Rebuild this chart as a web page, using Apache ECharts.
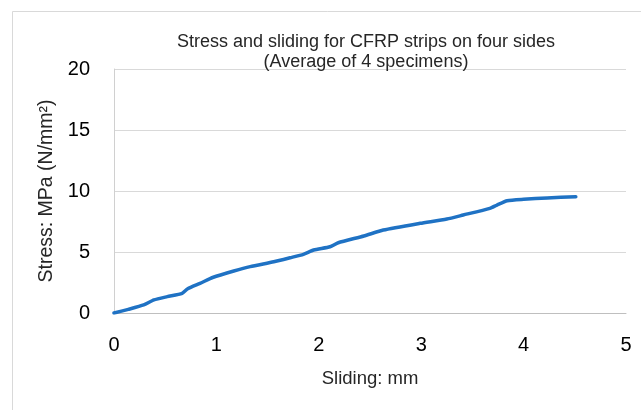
<!DOCTYPE html>
<html>
<head>
<meta charset="utf-8">
<script src="https://cdn.jsdelivr.net/npm/echarts@6/dist/echarts.min.js"></script>
<style>html,body{margin:0;padding:0;background:#fff;}#c{width:641px;height:410px;}</style>
</head>
<body>
<div id="c"></div>
<script>
const titleLines = ["Stress and sliding for CFRP strips on four sides", "(Average of 4 specimens)"];
const xName = "Sliding: mm";
const yName = "Stress: MPa (N/mm²)";
const sliding = [0, 0.14, 0.29, 0.39, 0.52, 0.665, 0.72, 0.84, 0.97, 1.17, 1.33, 1.56, 1.72, 1.85, 1.95, 2.11, 2.19, 2.44, 2.63, 2.99, 3.25, 3.41, 3.67, 3.74, 3.84, 4.00, 4.23, 4.51];
const stress  = [0, 0.30, 0.66, 1.07, 1.34, 1.61, 1.99, 2.43, 2.93, 3.44, 3.80, 4.20, 4.53, 4.81, 5.16, 5.43, 5.76, 6.31, 6.80, 7.35, 7.70, 8.03, 8.58, 8.85, 9.20, 9.32, 9.43, 9.53];

const font = "'Liberation Sans', Arial, sans-serif";
const chart = echarts.init(document.getElementById('c'), null, {renderer: 'canvas'});
chart.setOption({
  backgroundColor: '#fff',
  animation: false,
  graphic: [{
    type: 'rect', silent: true, z: -10,
    shape: {x: 12.5, y: 11.5, width: 700, height: 500},
    style: {fill: 'none', stroke: '#d9d9d9', lineWidth: 1}
  }],
  title: {
    text: titleLines.join('\n'),
    left: 361, top: 27, textAlign: 'center',
    textStyle: {fontFamily: font, fontSize: 18, fontWeight: 'normal', color: '#262626', lineHeight: 20}
  },
  grid: {left: 114, right: 15, top: 69, bottom: 97},
  xAxis: {
    type: 'value', min: 0, max: 5, interval: 1,
    name: xName, nameLocation: 'middle', nameGap: 56,
    nameTextStyle: {fontFamily: font, fontSize: 18.5, color: '#262626'},
    axisLine: {show: true, lineStyle: {color: '#bfbfbf', width: 1}},
    axisTick: {show: false},
    splitLine: {show: false},
    axisLabel: {fontFamily: font, fontSize: 20, color: '#000', margin: 22}
  },
  yAxis: {
    type: 'value', min: 0, max: 20, interval: 5,
    name: yName, nameLocation: 'middle', nameGap: 56,
    nameTextStyle: {fontFamily: font, fontSize: 19.5, color: '#262626'},
    axisLine: {show: true, lineStyle: {color: '#d0d0d0', width: 1}},
    axisTick: {show: false},
    splitLine: {show: true, lineStyle: {color: '#d9d9d9', width: 1}},
    axisLabel: {fontFamily: font, fontSize: 20, color: '#000', margin: 24}
  },
  series: [{
    type: 'line',
    data: sliding.map((x, i) => [x, stress[i]]),
    showSymbol: false,
    smooth: 0.2,
    lineStyle: {color: '#1f72c4', width: 3.5, cap: 'round', join: 'round'}
  }]
});
</script>
</body>
</html>
